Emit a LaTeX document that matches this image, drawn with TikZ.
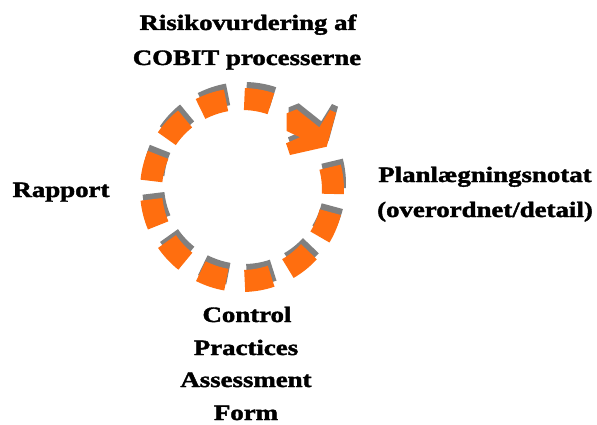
\documentclass[tikz,border=0pt]{standalone}
\usepackage{fontspec}
\setmainfont{Liberation Serif}
\newfontfamily\heavyfont{Liberation Serif}[BoldFeatures={FakeBold=1.6}]
\definecolor{dashorange}{RGB}{255,110,15}
\definecolor{shadowgray}{RGB}{128,128,128}
\tikzset{
  lbl/.style={inner sep=0pt, anchor=base, font=\heavyfont\bfseries\fontsize{22}{22}\selectfont},
  seg/.style={line width=22pt}
}
\newcommand{\wide}[1]{\scalebox{1.22}[1]{#1}}
\newcommand{\ringparts}[1]{%
  \foreach \k in {0,...,10}{
    \pgfmathsetmacro{\a}{6-28.6*\k}
    \draw[seg, #1] (242,234) ++(\a+8.5:91pt) arc[start angle=\a+8.5, end angle=\a-8.5, radius=91pt];
  }
  \fill[#1] (286.7,310.7) -- (296.7,314.7) -- (319.3,296.7) -- (330,314) -- (336,311.3) -- (326.7,277.3) -- (290,269) -- (286,280.7) -- (300,286.7) -- (286.7,293) -- cycle;
}
\begin{document}
\begin{tikzpicture}[x=1pt,y=1pt]
\useasboundingbox (0,0) rectangle (597,424);
\coordinate (c) at (242,234);
\begin{scope}[shift={(2pt,6pt)}]
  \ringparts{shadowgray}
\end{scope}
\ringparts{dashorange}
\node[lbl] (t1) at (248,394) {\wide{Risikovurdering af}};
\node[lbl] (t2) at (247,359) {\wide{COBIT processerne}};
\node[lbl] (r1) at (61,227) {\wide{Rapport}};
\node[lbl] (p1) at (485,242) {\wide{Planlægningsnotat}};
\node[lbl] (p2) at (485,207) {\wide{(overordnet/detail)}};
\node[lbl] (b1) at (247,102) {\wide{Control}};
\node[lbl] (b2) at (246,69) {\wide{Practices}};
\node[lbl] (b3) at (246,37) {\wide{Assessment}};
\node[lbl] (b4) at (246,4) {\wide{Form}};
\end{tikzpicture}
\end{document}
